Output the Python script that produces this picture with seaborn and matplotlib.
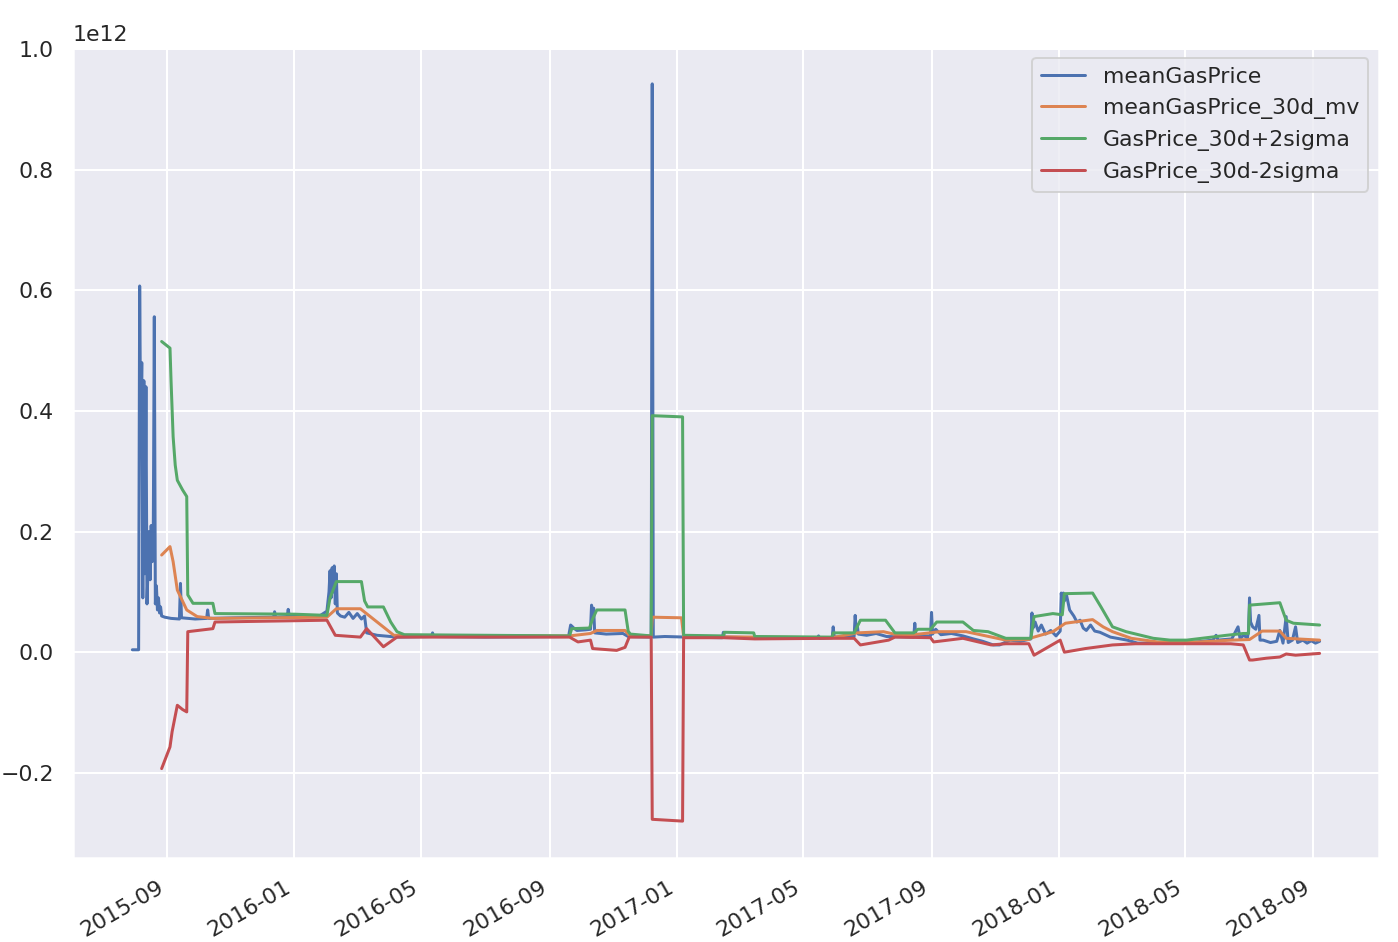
import matplotlib
matplotlib.use("Agg")
import matplotlib.pyplot as plt
import matplotlib.dates as mdates
import numpy as np
import pandas as pd
import seaborn as sns

# ---------------- data (values in units of 1e12 wei) ----------------
mean_dates = [
    "2015-07-30", "2015-08-05", "2015-08-06", "2015-08-07", "2015-08-08", "2015-08-09",
    "2015-08-10", "2015-08-11", "2015-08-12", "2015-08-13", "2015-08-14", "2015-08-15",
    "2015-08-16", "2015-08-17", "2015-08-18", "2015-08-19", "2015-08-20", "2015-08-21",
    "2015-08-22", "2015-08-23", "2015-08-24", "2015-08-25", "2015-08-26", "2015-08-27",
    "2015-08-30", "2015-09-05", "2015-09-13", "2015-09-14", "2015-09-15", "2015-09-28",
    "2015-10-09", "2015-10-10", "2015-10-11", "2015-11-05", "2015-12-12", "2015-12-13",
    "2015-12-14", "2015-12-25", "2015-12-26", "2015-12-27", "2016-01-25", "2016-02-01",
    "2016-02-03", "2016-02-04", "2016-02-05", "2016-02-06", "2016-02-07", "2016-02-08",
    "2016-02-09", "2016-02-10", "2016-02-11", "2016-02-14", "2016-02-18", "2016-02-22",
    "2016-02-26", "2016-03-01", "2016-03-05", "2016-03-08", "2016-03-10", "2016-03-20",
    "2016-04-08", "2016-05-11", "2016-05-12", "2016-05-13", "2016-07-01", "2016-09-19",
    "2016-09-21", "2016-09-24", "2016-09-27", "2016-10-05", "2016-10-10", "2016-10-11",
    "2016-10-12", "2016-10-13", "2016-10-14", "2016-10-25", "2016-11-10", "2016-11-15",
    "2016-12-07", "2016-12-08", "2016-12-09", "2016-12-20", "2017-01-10", "2017-02-13",
    "2017-02-14", "2017-02-15", "2017-04-15", "2017-05-15", "2017-05-16", "2017-05-17",
    "2017-05-29", "2017-05-30", "2017-05-31", "2017-06-19", "2017-06-20", "2017-06-21",
    "2017-06-22", "2017-06-23", "2017-07-01", "2017-07-10", "2017-07-20", "2017-08-15",
    "2017-08-16", "2017-08-17", "2017-08-31", "2017-09-01", "2017-09-02", "2017-09-05",
    "2017-09-10", "2017-09-20", "2017-10-01", "2017-10-11", "2017-10-20", "2017-10-30",
    "2017-11-05", "2017-11-15", "2017-11-25", "2017-12-05", "2017-12-06", "2017-12-07",
    "2017-12-09", "2017-12-12", "2017-12-15", "2017-12-19", "2017-12-24", "2017-12-29",
    "2018-01-02", "2018-01-03", "2018-01-04", "2018-01-05", "2018-01-06", "2018-01-08",
    "2018-01-11", "2018-01-15", "2018-01-18", "2018-01-21", "2018-01-24", "2018-01-27",
    "2018-01-31", "2018-02-04", "2018-02-09", "2018-02-19", "2018-03-07", "2018-03-17",
    "2018-05-03", "2018-05-28", "2018-05-31", "2018-06-02", "2018-06-15", "2018-06-21",
    "2018-06-23", "2018-06-26", "2018-06-30", "2018-07-01", "2018-07-02", "2018-07-03",
    "2018-07-05", "2018-07-08", "2018-07-11", "2018-07-12", "2018-07-15", "2018-07-22",
    "2018-07-28", "2018-07-31", "2018-08-03", "2018-08-06", "2018-08-08", "2018-08-12",
    "2018-08-15", "2018-08-17", "2018-08-22", "2018-08-26", "2018-08-30", "2018-09-03",
    "2018-09-07",
]
mean_vals = [
    0.004, 0.004, 0.607, 0.36, 0.48, 0.09,
    0.45, 0.13, 0.44, 0.08, 0.14, 0.20,
    0.12, 0.21, 0.15, 0.19, 0.556, 0.08,
    0.11, 0.07, 0.09, 0.065, 0.075, 0.06,
    0.058, 0.056, 0.055, 0.114, 0.057, 0.055,
    0.056, 0.070, 0.056, 0.057, 0.058, 0.067,
    0.058, 0.059, 0.071, 0.060, 0.060, 0.068,
    0.100, 0.135, 0.090, 0.140, 0.100, 0.143,
    0.080, 0.130, 0.065, 0.060, 0.058, 0.066,
    0.056, 0.064, 0.055, 0.060, 0.032, 0.028,
    0.025, 0.026, 0.032, 0.026, 0.025, 0.026,
    0.045, 0.040, 0.036, 0.037, 0.038, 0.078,
    0.060, 0.073, 0.032, 0.030, 0.031, 0.026,
    0.025, 0.942, 0.025, 0.026, 0.025, 0.024,
    0.033, 0.025, 0.023, 0.024, 0.027, 0.023,
    0.024, 0.042, 0.025, 0.026, 0.061, 0.035,
    0.045, 0.030, 0.028, 0.031, 0.026, 0.025,
    0.048, 0.027, 0.027, 0.066, 0.030, 0.038,
    0.029, 0.031, 0.027, 0.022, 0.018, 0.012,
    0.012, 0.020, 0.018, 0.022, 0.065, 0.040,
    0.050, 0.035, 0.045, 0.030, 0.036, 0.027,
    0.035, 0.098, 0.080, 0.098, 0.085, 0.095,
    0.070, 0.060, 0.050, 0.053, 0.040, 0.036,
    0.045, 0.035, 0.033, 0.025, 0.020, 0.015,
    0.015, 0.020, 0.028, 0.020, 0.022, 0.042,
    0.022, 0.028, 0.024, 0.035, 0.090, 0.050,
    0.042, 0.038, 0.061, 0.020, 0.020, 0.016,
    0.018, 0.036, 0.015, 0.059, 0.016, 0.020,
    0.042, 0.016, 0.020, 0.015, 0.019, 0.015,
    0.018,
]

mv_dates = [
    "2015-08-27", "2015-09-04", "2015-09-07", "2015-09-11", "2015-09-20", "2015-09-30",
    "2015-10-15", "2016-02-01", "2016-02-10", "2016-03-04", "2016-04-05", "2016-09-20",
    "2016-10-10", "2016-10-16", "2016-11-12", "2016-11-16", "2016-12-07", "2016-12-08",
    "2017-01-05", "2017-01-07", "2017-05-29", "2017-06-22", "2017-07-17", "2017-08-01",
    "2017-08-20", "2017-09-09", "2017-10-04", "2017-11-11", "2017-12-03", "2017-12-06",
    "2017-12-26", "2018-01-07", "2018-02-02", "2018-02-12", "2018-02-21", "2018-03-11",
    "2018-04-05", "2018-05-15", "2018-06-15", "2018-07-02", "2018-07-14", "2018-07-31",
    "2018-08-06", "2018-09-07",
]
mv_vals = [
    0.161, 0.175, 0.150, 0.103, 0.070, 0.059,
    0.056, 0.058, 0.072, 0.072, 0.028, 0.027,
    0.031, 0.036, 0.036, 0.028, 0.027, 0.058,
    0.057, 0.026, 0.024, 0.032, 0.034, 0.028,
    0.030, 0.034, 0.034, 0.020, 0.021, 0.024,
    0.034, 0.048, 0.054, 0.042, 0.034, 0.023,
    0.017, 0.017, 0.020, 0.021, 0.035, 0.035,
    0.023, 0.020,
]

up_dates = [
    "2015-08-27", "2015-09-04", "2015-09-05", "2015-09-07", "2015-09-09", "2015-09-11",
    "2015-09-16", "2015-09-20", "2015-09-21", "2015-09-26", "2015-10-15", "2015-10-17",
    "2016-01-01", "2016-02-01", "2016-02-04", "2016-02-10", "2016-03-05", "2016-03-08",
    "2016-03-11", "2016-03-26", "2016-04-02", "2016-04-08", "2016-04-15", "2016-09-20",
    "2016-09-22", "2016-10-09", "2016-10-12", "2016-10-16", "2016-11-12", "2016-11-15",
    "2016-11-17", "2016-12-07", "2016-12-08", "2017-01-06", "2017-01-07", "2017-02-14",
    "2017-02-15", "2017-03-15", "2017-03-16", "2017-05-29", "2017-05-30", "2017-06-19",
    "2017-06-25", "2017-07-19", "2017-07-28", "2017-08-15", "2017-08-19", "2017-08-31",
    "2017-09-06", "2017-10-01", "2017-10-11", "2017-10-25", "2017-11-11", "2017-12-05",
    "2017-12-08", "2017-12-26", "2018-01-04", "2018-01-06", "2018-02-02", "2018-02-10",
    "2018-02-21", "2018-03-06", "2018-04-01", "2018-04-17", "2018-05-03", "2018-06-10",
    "2018-06-26", "2018-07-01", "2018-07-02", "2018-07-31", "2018-08-06", "2018-08-13",
    "2018-09-07",
]
up_vals = [
    0.515, 0.504, 0.450, 0.357, 0.310, 0.285,
    0.269, 0.258, 0.095, 0.081, 0.081, 0.064,
    0.063, 0.061, 0.090, 0.117, 0.117, 0.085,
    0.075, 0.075, 0.050, 0.034, 0.029, 0.027,
    0.039, 0.040, 0.055, 0.070, 0.070, 0.035,
    0.030, 0.027, 0.392, 0.390, 0.028, 0.027,
    0.033, 0.032, 0.026, 0.025, 0.032, 0.032,
    0.053, 0.053, 0.032, 0.032, 0.038, 0.038,
    0.050, 0.050, 0.036, 0.034, 0.023, 0.023,
    0.059, 0.064, 0.062, 0.097, 0.098, 0.075,
    0.042, 0.034, 0.023, 0.020, 0.020, 0.028,
    0.031, 0.031, 0.078, 0.082, 0.053, 0.048,
    0.045,
]

lo_dates = [
    "2015-08-27", "2015-09-04", "2015-09-06", "2015-09-11", "2015-09-16", "2015-09-20",
    "2015-09-21", "2015-10-15", "2015-10-17", "2016-02-01", "2016-02-09", "2016-03-04",
    "2016-03-10", "2016-03-26", "2016-04-08", "2016-09-20", "2016-09-28", "2016-10-10",
    "2016-10-12", "2016-11-04", "2016-11-12", "2016-11-16", "2016-12-07", "2016-12-08",
    "2017-01-06", "2017-01-07", "2017-02-14", "2017-03-16", "2017-05-29", "2017-06-19",
    "2017-06-25", "2017-07-22", "2017-07-28", "2017-08-31", "2017-09-03", "2017-10-01",
    "2017-10-28", "2017-11-11", "2017-12-03", "2017-12-08", "2018-01-02", "2018-01-06",
    "2018-01-26", "2018-02-21", "2018-03-15", "2018-06-14", "2018-06-26", "2018-07-02",
    "2018-07-05", "2018-07-18", "2018-07-31", "2018-08-06", "2018-08-15", "2018-09-07",
]
lo_vals = [
    -0.193, -0.157, -0.132, -0.088, -0.095, -0.099,
    0.034, 0.039, 0.050, 0.053, 0.028, 0.025,
    0.039, 0.009, 0.025, 0.025, 0.017, 0.020,
    0.006, 0.003, 0.008, 0.025, 0.025, -0.277,
    -0.280, 0.024, 0.024, 0.022, 0.023, 0.023,
    0.012, 0.020, 0.025, 0.024, 0.017, 0.023,
    0.012, 0.014, 0.014, -0.005, 0.020, 0.000,
    0.006, 0.012, 0.014, 0.014, 0.012, -0.013,
    -0.013, -0.010, -0.008, -0.003, -0.005, -0.002,
]

series_names = ["meanGasPrice", "meanGasPrice_30d_mv",
                "GasPrice_30d+2sigma", "GasPrice_30d-2sigma"]
SCALE = 1e12

# ---------------- plot ----------------
sns.set_theme()
palette = sns.color_palette("deep")

fig = plt.figure(figsize=(1398 / 144, 942 / 144), dpi=144)
ax = fig.add_axes([0.0522, 0.0892, 0.9342, 0.8609])

all_series = [(mean_dates, mean_vals), (mv_dates, mv_vals),
              (up_dates, up_vals), (lo_dates, lo_vals)]
for i, ((d, v), name) in enumerate(zip(all_series, series_names)):
    df = pd.DataFrame({"date": pd.to_datetime(d), "value": np.array(v) * SCALE})
    sns.lineplot(data=df, x="date", y="value", ax=ax, color=palette[i],
                 label=name, estimator=None)

ax.set_xlabel("")
ax.set_ylabel("")
ax.xaxis.set_major_locator(mdates.MonthLocator(bymonth=[1, 5, 9]))
ax.xaxis.set_major_formatter(mdates.DateFormatter("%Y-%m"))
plt.setp(ax.get_xticklabels(), rotation=30, ha="right")
ax.legend(loc="upper right")

fig.savefig("out.png", dpi=144)
